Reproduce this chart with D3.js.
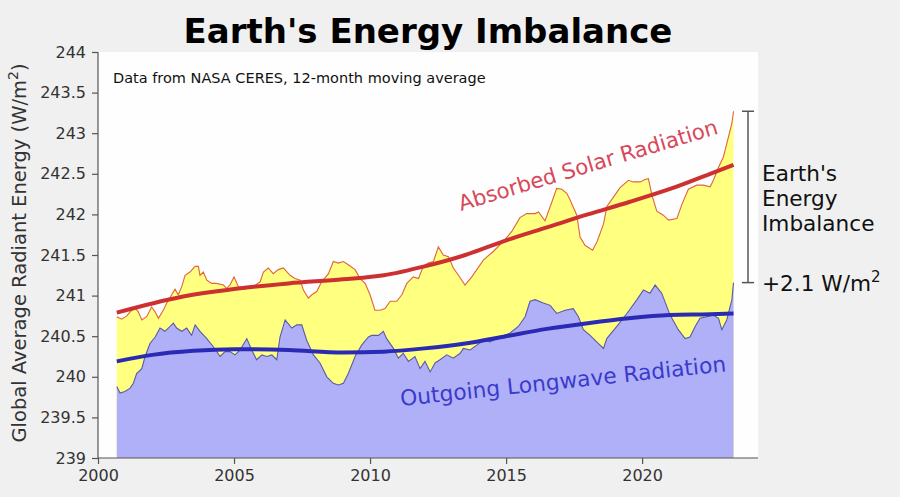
<!DOCTYPE html>
<html><head><meta charset="utf-8">
<script src="https://cdn.jsdelivr.net/npm/d3@7"></script>
<style>
html,body{margin:0;padding:0;background:#f0f0f0;}
svg{display:block;font-family:"DejaVu Sans",sans-serif;}
</style></head>
<body>
<svg id="chart" width="900" height="497"></svg>
<script>
// ---- data ----
const asrYears = [2000.69,2000.87,2001.06,2001.18,2001.36,2001.48,2001.61,2001.79,2001.97,2002.10,2002.22,2002.40,2002.53,2002.71,2002.83,2002.95,2003.08,2003.20,2003.38,2003.57,2003.69,2003.75,2003.87,2004.00,2004.18,2004.36,2004.61,2004.73,2004.85,2005.00,2005.16,2005.34,2005.53,2005.71,2005.96,2006.08,2006.26,2006.44,2006.63,2006.81,2007.06,2007.24,2007.43,2007.55,2007.73,2007.86,2008.04,2008.22,2008.47,2008.65,2008.83,2009.02,2009.20,2009.45,2009.63,2009.82,2010.00,2010.18,2010.37,2010.55,2010.74,2010.98,2011.17,2011.35,2011.59,2011.78,2011.96,2012.14,2012.33,2012.51,2012.69,2012.88,2013.06,2013.25,2013.49,2013.74,2014.17,2014.52,2014.96,2015.21,2015.51,2015.76,2016.07,2016.19,2016.43,2016.68,2016.86,2017.05,2017.23,2017.35,2017.60,2017.72,2017.90,2018.18,2018.35,2018.58,2018.71,2018.94,2019.19,2019.50,2019.68,2019.93,2020.11,2020.23,2020.36,2020.54,2020.78,2020.97,2021.28,2021.46,2021.70,2022.01,2022.25,2022.50,2022.62,2022.81,2022.99,2023.17,2023.30,2023.36];
const asrValues = [240.74,240.71,240.75,240.80,240.85,240.80,240.70,240.74,240.86,240.80,240.72,240.82,240.91,241.01,241.08,241.01,241.11,241.25,241.29,241.36,241.36,241.25,241.29,241.19,241.15,241.15,241.13,241.09,241.13,241.23,241.11,241.08,241.09,241.11,241.17,241.29,241.34,241.27,241.32,241.34,241.25,241.21,241.19,241.07,240.97,241.01,241.05,241.17,241.27,241.42,241.40,241.42,241.38,241.32,241.21,241.15,241.01,240.82,240.82,240.84,240.93,240.93,241.01,241.15,241.23,241.21,241.36,241.40,241.42,241.60,241.50,241.48,241.34,241.25,241.13,241.23,241.44,241.54,241.69,241.79,241.96,242.01,242.01,242.03,241.92,242.15,242.32,242.31,242.26,242.18,241.99,241.72,241.62,241.56,241.67,241.88,242.10,242.21,242.33,242.42,242.40,242.40,242.43,242.44,242.24,242.04,241.99,241.93,241.95,242.12,242.31,242.36,242.36,242.34,242.42,242.58,242.71,242.95,243.12,243.27];

const olrYears = [2000.69,2000.81,2000.99,2001.18,2001.30,2001.42,2001.61,2001.73,2001.91,2002.10,2002.28,2002.46,2002.65,2002.77,2002.89,2003.08,2003.26,2003.44,2003.57,2003.75,2004.00,2004.24,2004.49,2004.67,2004.85,2005.04,2005.22,2005.47,2005.65,2005.83,2006.02,2006.20,2006.39,2006.57,2006.69,2006.88,2007.12,2007.31,2007.49,2007.67,2007.92,2008.16,2008.41,2008.65,2008.83,2009.02,2009.20,2009.45,2009.69,2009.94,2010.06,2010.31,2010.49,2010.61,2010.86,2011.04,2011.22,2011.41,2011.65,2011.84,2012.02,2012.21,2012.39,2012.57,2012.82,2013.06,2013.31,2013.43,2013.68,2013.92,2014.17,2014.41,2014.78,2015.15,2015.45,2015.70,2015.88,2016.07,2016.37,2016.62,2016.86,2017.17,2017.47,2017.66,2017.84,2018.09,2018.33,2018.58,2018.70,2019.07,2019.44,2019.81,2020.05,2020.29,2020.48,2020.72,2021.03,2021.33,2021.58,2021.76,2021.95,2022.13,2022.38,2022.62,2022.81,2022.93,2023.11,2023.30,2023.36];
const olrValues = [239.88,239.80,239.82,239.86,239.92,240.04,240.10,240.25,240.41,240.49,240.60,240.56,240.62,240.66,240.60,240.56,240.60,240.51,240.64,240.56,240.47,240.37,240.25,240.31,240.31,240.27,240.33,240.47,240.33,240.21,240.27,240.25,240.27,240.21,240.49,240.70,240.60,240.64,240.64,240.45,240.27,240.17,240.00,239.92,239.90,239.92,240.04,240.25,240.39,240.49,240.51,240.51,240.56,240.47,240.35,240.23,240.29,240.19,240.25,240.10,240.19,240.06,240.17,240.21,240.27,240.23,240.29,240.35,240.33,240.39,240.45,240.43,240.49,240.54,240.62,240.74,240.93,240.95,240.91,240.88,240.78,240.82,240.84,240.74,240.58,240.51,240.43,240.35,240.47,240.62,240.78,240.95,241.07,241.03,241.13,241.03,240.76,240.58,240.47,240.49,240.62,240.72,240.74,240.76,240.72,240.58,240.70,240.95,241.16];

const asrTrendYears = [2000.69,2003.0,2005.0,2007.0,2009.0,2010.5,2012.0,2013.5,2015.0,2016.5,2018.0,2019.5,2021.0,2022.5,2023.36];
const asrTrendValues = [240.79,240.98,241.08,241.15,241.20,241.25,241.36,241.50,241.68,241.84,242.00,242.15,242.31,242.50,242.61];
const olrTrendYears = [2000.69,2002.0,2003.5,2005.0,2007.0,2009.0,2010.5,2012.0,2013.5,2015.0,2016.5,2018.0,2019.5,2021.0,2022.5,2023.36];
const olrTrendValues = [240.19,240.27,240.32,240.34,240.33,240.30,240.31,240.35,240.41,240.50,240.59,240.66,240.72,240.76,240.77,240.78];

const xTicks = [2000,2005,2010,2015,2020];
const yTicks = [239,239.5,240,240.5,241,241.5,242,242.5,243,243.5,244];

const titleText = "Earth's Energy Imbalance";
const noteText = "Data from NASA CERES, 12-month moving average";
const asrLabel = "Absorbed Solar Radiation";
const olrLabel = "Outgoing Longwave Radiation";
const imbalanceLines = ["Earth's","Energy","Imbalance"];
const imbalanceValue = "+2.1 W/m";

// ---- layout ----
const svg = d3.select("#chart");
const L = 98, R = 758, T = 52, B = 458;
const x = d3.scaleLinear().domain([2000, 2024.26]).range([L, R]);
const y = d3.scaleLinear().domain([239, 244]).range([B, T]);

svg.append("rect").attr("width",900).attr("height",497).attr("fill","#f0f0f0");
svg.append("rect").attr("x",L).attr("y",T).attr("width",R-L).attr("height",B-T).attr("fill","#fefefe");

const asr = asrYears.map((d,i)=>[d, asrValues[i]]);
const olr = olrYears.map((d,i)=>[d, olrValues[i]]);
const asrT = asrTrendYears.map((d,i)=>[d, asrTrendValues[i]]);
const olrT = olrTrendYears.map((d,i)=>[d, olrTrendValues[i]]);

const area = d3.area().x(d=>x(d[0])).y0(y(239)).y1(d=>y(d[1]));
const line = d3.line().x(d=>x(d[0])).y(d=>y(d[1]));
const smooth = d3.line().x(d=>x(d[0])).y(d=>y(d[1])).curve(d3.curveMonotoneX);

svg.append("path").attr("d", area(asr)).attr("fill","#ffff80");
svg.append("path").attr("d", area(olr)).attr("fill","#b0b0f8");
svg.append("path").attr("d", line(asr)).attr("fill","none").attr("stroke","#e0643c").attr("stroke-width",1.1);
svg.append("path").attr("d", line(olr)).attr("fill","none").attr("stroke","#5a5aa6").attr("stroke-width",1.1);
svg.append("path").attr("d", smooth(asrT)).attr("fill","none").attr("stroke","#cc3030").attr("stroke-width",4);
svg.append("path").attr("d", smooth(olrT)).attr("fill","none").attr("stroke","#2a2ab4").attr("stroke-width",4);

// axes
const axColor = "#555";
const xAxis = svg.append("g").attr("transform",`translate(0,${B})`)
  .call(d3.axisBottom(x).tickValues(xTicks).tickFormat(d3.format("d")).tickSize(6).tickPadding(6));
const yAxis = svg.append("g").attr("transform",`translate(${L},0)`)
  .call(d3.axisLeft(y).tickValues(yTicks).tickFormat(d=>String(d)).tickSize(6).tickPadding(6));
[xAxis,yAxis].forEach(g=>{
  g.select(".domain").attr("stroke",axColor).attr("stroke-width",1.2);
  g.selectAll(".tick line").attr("stroke",axColor).attr("stroke-width",1.2);
  g.selectAll(".tick text").attr("fill","#333").attr("font-size",16).attr("font-family","DejaVu Sans");
});
xAxis.select(".domain").attr("d",`M${L},0H${R}`);
yAxis.select(".domain").attr("d",`M0,${B}V${T}`);

// y label
const yl = svg.append("text").attr("transform","translate(26,253) rotate(-90)")
  .attr("text-anchor","middle").attr("font-size",19.5).attr("fill","#333");
yl.append("tspan").text("Global Average Radiant Energy (W/m");
yl.append("tspan").attr("dy",-8).attr("font-size",14).text("2");
yl.append("tspan").attr("dy",8).text(")");

// title
svg.append("text").attr("x",428).attr("y",43).attr("text-anchor","middle")
  .attr("font-size",34).attr("font-weight","bold").attr("fill","#000").text(titleText);

// note
svg.append("text").attr("x",113).attr("y",83).attr("font-size",14.5).attr("fill","#111").text(noteText);

// curve labels
svg.append("text").attr("transform","translate(588,165) rotate(-16.7)")
  .attr("text-anchor","middle").attr("dy","0.35em").attr("font-size",21.3).attr("fill","#d8485a").text(asrLabel);
svg.append("text").attr("transform","translate(563,381) rotate(-6.1)")
  .attr("text-anchor","middle").attr("dy","0.35em").attr("font-size",21.8).attr("fill","#3a3acc").text(olrLabel);

// imbalance bracket (from latest values)
const topV = asrValues[asrValues.length-1], botV = olrValues[olrValues.length-1];
const bx = 748;
const br = svg.append("g").attr("stroke","#555").attr("stroke-width",1.5);
br.append("line").attr("x1",bx).attr("x2",bx).attr("y1",y(topV)).attr("y2",y(botV));
br.append("line").attr("x1",bx-6).attr("x2",bx+6).attr("y1",y(topV)).attr("y2",y(topV));
br.append("line").attr("x1",bx-6).attr("x2",bx+6).attr("y1",y(botV)).attr("y2",y(botV));

imbalanceLines.forEach((t,i)=>{
  svg.append("text").attr("x",762).attr("y",181+i*25).attr("font-size",21.6).attr("fill","#111").text(t);
});
const iv = svg.append("text").attr("x",762).attr("y",291).attr("font-size",21.6).attr("fill","#111");
iv.append("tspan").text(imbalanceValue);
iv.append("tspan").attr("dy",-9).attr("font-size",15).text("2");
</script>
</body></html>
